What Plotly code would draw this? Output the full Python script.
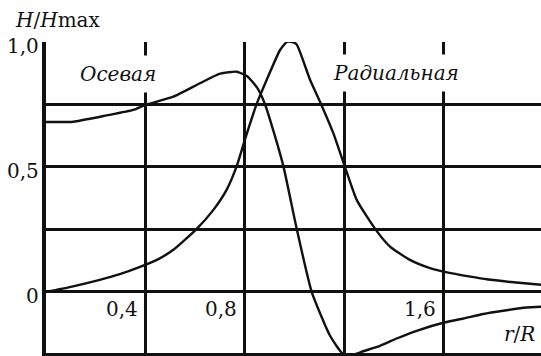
import plotly.graph_objects as go

# r/R positions and normalised field strength H/Hmax for the two components
axial_r = [0.0, 0.11, 0.244, 0.351, 0.40, 0.512, 0.619, 0.70, 0.767, 0.81,
           0.85, 0.88, 0.92, 0.955, 1.008, 1.068, 1.142, 1.195, 1.235, 1.275,
           1.343, 1.41, 1.49, 1.601, 1.678, 1.758, 1.838, 1.932, 1.99]
axial_h = [0.68, 0.681, 0.706, 0.728, 0.748, 0.781, 0.835, 0.873, 0.881, 0.862,
           0.815, 0.752, 0.625, 0.50, 0.252, 0.0, -0.176, -0.25, -0.252, -0.238,
           -0.216, -0.187, -0.156, -0.123, -0.107, -0.089, -0.076, -0.063, -0.06]

radial_r = [0.0, 0.10, 0.216, 0.30, 0.378, 0.45, 0.512, 0.606, 0.673, 0.726,
            0.767, 0.80, 0.847, 0.887, 0.941, 0.968, 0.99, 1.008, 1.061, 1.102,
            1.155, 1.202, 1.249, 1.323, 1.383, 1.463, 1.544, 1.617, 1.70, 1.772,
            1.88, 1.99]
radial_h = [0.0, 0.02, 0.048, 0.072, 0.100, 0.13, 0.168, 0.252, 0.328, 0.408,
            0.504, 0.61, 0.752, 0.848, 0.968, 1.0, 1.0, 0.99, 0.85, 0.76,
            0.635, 0.499, 0.368, 0.252, 0.181, 0.128, 0.095, 0.077, 0.062, 0.05,
            0.038, 0.028]

grid_x = [0.4, 0.8, 1.2, 1.6]
grid_y = [0.0, 0.25, 0.5, 0.75, 1.0]

x_tick_vals = [0.4, 0.8, 1.6]
x_tick_text = ["0,4", "0,8", "1,6"]
y_tick_vals = [0.0, 0.5, 1.0]
y_tick_text = ["0", "0,5", "1,0"]

FONT = "DejaVu Serif"
INK = "#111111"


def label_font(size=20):
    return dict(family=FONT, size=size, color=INK)


fig = go.Figure()
for xs, ys in ((axial_r, axial_h), (radial_r, radial_h)):
    fig.add_trace(go.Scatter(x=xs, y=ys, mode="lines",
                             line=dict(color=INK, width=2.4, shape="spline", smoothing=0.5),
                             showlegend=False, hoverinfo="skip"))

annotations = []
for v, t in zip(y_tick_vals, y_tick_text):
    annotations.append(dict(x=0, y=v, xref="x", yref="y", text=t, showarrow=False,
                            xanchor="right", yanchor="middle", xshift=-5, yshift=-4,
                            font=label_font()))
for v, t in zip(x_tick_vals, x_tick_text):
    annotations.append(dict(x=v, y=0, xref="x", yref="y", text=t, showarrow=False,
                            xanchor="right", yanchor="middle", xshift=-6, yshift=-17,
                            font=label_font()))

annotations += [
    dict(x=-0.0667, y=1.071, xref="paper", yref="paper",
         text="<i>H</i>/<i>H</i>max", showarrow=False, xanchor="left", yanchor="middle",
         font=label_font()),
    dict(x=1.905, y=-0.168, xref="x", yref="y", text="<i>r</i>/<i>R</i>",
         showarrow=False, xanchor="center", yanchor="middle", font=label_font()),
    dict(x=0.29, y=0.872, xref="x", yref="y", text="<i>Осевая</i>",
         showarrow=False, xanchor="center", yanchor="middle", bgcolor="white", borderpad=6,
         font=label_font()),
    dict(x=1.407, y=0.876, xref="x", yref="y", text="<i>Радиальная</i>",
         showarrow=False, xanchor="center", yanchor="middle", bgcolor="white", borderpad=6,
         font=label_font()),
]

fig.update_layout(
    width=541, height=356,
    margin=dict(l=46, r=0, t=42, b=3),
    paper_bgcolor="white", plot_bgcolor="white",
    font=dict(family=FONT, color=INK),
    annotations=annotations,
    xaxis=dict(range=[0, 1.99], tickvals=grid_x, showticklabels=False, ticks="",
               showgrid=True, gridcolor=INK, gridwidth=3.2, zeroline=False,
               showline=True, linecolor=INK, linewidth=4, fixedrange=True),
    yaxis=dict(range=[-0.245, 1.0], tickvals=grid_y, showticklabels=False, ticks="",
               showgrid=True, gridcolor=INK, gridwidth=3.2, zeroline=False,
               showline=True, linecolor=INK, linewidth=3.5, fixedrange=True),
)

fig.write_html("out.html", config={"displayModeBar": False})
